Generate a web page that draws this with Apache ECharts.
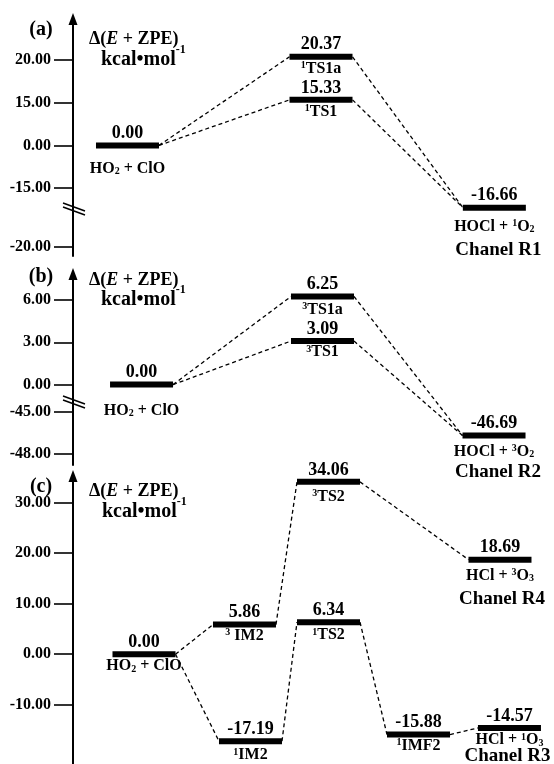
<!DOCTYPE html>
<html><head><meta charset="utf-8">
<script src="https://cdn.jsdelivr.net/npm/echarts@6/dist/echarts.min.js"></script>
<style>html,body{margin:0;padding:0;background:#fff}#c{width:554px;height:764px}</style>
</head><body><div id="c"></div>
<script>
// ================= DATA =================
// Panel (a) – Channel R1
const aTickValues = [20, 15, 0, -15, -20];
const aLevelNames = ['HO_2 + ClO', '^1TS1a', '^1TS1', 'HOCl + ^1O_2'];
const aLevelEnergies = [0.00, 20.37, 15.33, -16.66];
const aChannelNames = ['', '', '', 'Chanel R1'];
const aLinks = [[0, 1], [0, 2], [1, 3], [2, 3]];

// Panel (b) – Channel R2
const bTickValues = [6, 3, 0, -45, -48];
const bLevelNames = ['HO_2 + ClO', '^3TS1a', '^3TS1', 'HOCl + ^3O_2'];
const bLevelEnergies = [0.00, 6.25, 3.09, -46.69];
const bChannelNames = ['', '', '', 'Chanel R2'];
const bLinks = [[0, 1], [0, 2], [1, 3], [2, 3]];

// Panel (c) – Channels R3 / R4
const cTickValues = [30, 20, 10, 0, -10];
const cLevelNames = ['HO_2 + ClO', '^3 IM2', '^1IM2', '^3TS2', '^1TS2', '^1IMF2', 'HCl + ^3O_3', 'HCl + ^1O_3'];
const cLevelEnergies = [0.00, 5.86, -17.19, 34.06, 6.34, -15.88, 18.69, -14.57];
const cChannelNames = ['', '', '', '', '', '', 'Chanel R4', 'Chanel R3'];
const cLinks = [[0, 1], [0, 2], [1, 3], [2, 4], [3, 6], [4, 5], [5, 7]];

// ================= LAYOUT / STYLE =================
const FONT = '"Liberation Serif", "Times New Roman", serif';
const HALF = 0.655;  // half bar width in reaction-coordinate units
const PANELS = [
  { tag: '(a)', ticks: aTickValues, names: aLevelNames, energies: aLevelEnergies, channels: aChannelNames, links: aLinks,
    L: { top: 19, height: 237, yMin: -0.211, yMax: 5.34, breakSeg: 0, breakSpan: 1.38, breakMark: 0.89,
         x: [1.133, 5.156, 5.156, 8.76], nameGap: [23, 12, 12, 19], chanGap: [0, 0, 0, 42], chanDx: [0, 0, 0, 4],
         tagPos: [41, 30], t1: [89, 39.5], t2: [101, 59.5] } },
  { tag: '(b)', ticks: bTickValues, names: bLevelNames, energies: bLevelEnergies, channels: bChannelNames, links: bLinks,
    L: { top: 274, height: 191, yMin: -0.26, yMax: 4.255, breakSeg: 1, breakSpan: 0.64, breakMark: 1.23,
         x: [1.425, 5.187, 5.187, 8.753], nameGap: [26, 13, 11, 16], chanGap: [0, 0, 0, 37], chanDx: [0, 0, 0, 4],
         tagPos: [41, 276.5], t1: [89, 280], t2: [101, 299.5] } },
  { tag: '(c)', ticks: cTickValues, names: cLevelNames, energies: cLevelEnergies, channels: cChannelNames, links: cLinks,
    L: { top: 476, height: 288, yMin: -1.17, yMax: 4.522, breakSeg: -1, breakSpan: 1, breakMark: null,
         x: [1.476, 3.565, 3.69, 5.312, 5.312, 7.183, 8.877, 9.074], nameGap: [12, 11, 14, 15, 13, 11, 16, 12],
         chanGap: [0, 0, 0, 0, 0, 0, 39, 28], chanDx: [0, 0, 0, 0, 0, 0, 2, -2],
         tagPos: [41, 486.5], t1: [89, 491.5], t2: [102, 511.5] } }
];

// ================= SCALE (piecewise axis through tick list) =================
function makeScale(ticks, breakSeg, breakSpan) {
  const asc = ticks.slice().sort((p, q) => p - q);
  const pos = [0];
  for (let i = 1; i < asc.length; i++) pos.push(pos[i - 1] + (i - 1 === breakSeg ? breakSpan : 1));
  return { asc, pos };
}
function toDisplay(s, v) {
  const n = s.asc.length;
  let i = 0;
  if (v <= s.asc[0]) i = 0;
  else if (v >= s.asc[n - 1]) i = n - 2;
  else { while (v > s.asc[i + 1]) i++; }
  const t = (v - s.asc[i]) / (s.asc[i + 1] - s.asc[i]);
  return s.pos[i] + t * (s.pos[i + 1] - s.pos[i]);
}

function richify(str, base) {
  let out = '', buf = '';
  for (let k = 0; k < str.length; k++) {
    const ch = str[k];
    if ((ch === '^' || ch === '_') && k + 1 < str.length) {
      if (buf) { out += '{' + base + '|' + buf + '}'; buf = ''; }
      out += '{' + (ch === '^' ? 'sup' : 'sub') + '|' + str[k + 1] + '}';
      k++;
    } else buf += ch;
  }
  if (buf) out += '{' + base + '|' + buf + '}';
  return out;
}
const tok = (size, extra) => Object.assign({ fontSize: size, fontWeight: 'bold', fontFamily: FONT, fill: '#000' }, extra || {});
const NAME_RICH = {
  n: tok(16, { lineHeight: 16 }),
  sup: tok(10, { lineHeight: 10, verticalAlign: 'top' }),
  sub: tok(10, { lineHeight: 10, verticalAlign: 'bottom' })
};

const grids = [], xAxes = [], yAxes = [], series = [], graphics = [];

PANELS.forEach((P, gi) => {
  const L = P.L;
  const sc = makeScale(P.ticks, L.breakSeg, L.breakSpan);
  const disp = P.energies.map(e => toDisplay(sc, e));
  const tickPos = sc.pos.slice();
  const labelFor = v => {
    for (let i = 0; i < sc.pos.length; i++) if (Math.abs(sc.pos[i] - v) < 1e-6) return sc.asc[i].toFixed(2);
    return '';
  };

  grids.push({ left: 73, right: 0, top: L.top, height: L.height, containLabel: false });
  xAxes.push({ gridIndex: gi, type: 'value', min: 0, max: 10, show: false });
  yAxes.push({
    gridIndex: gi, type: 'value', min: L.yMin, max: L.yMax, position: 'left',
    axisLine: { show: true, onZero: false, symbol: ['none', 'triangle'], symbolSize: [9, 12],
                lineStyle: { color: '#000', width: 2 } },
    axisTick: { show: true, inside: false, length: 19, customValues: tickPos, lineStyle: { color: '#000', width: 1.6 } },
    axisLabel: { show: true, margin: 22, customValues: tickPos, formatter: labelFor,
                 color: '#000', fontFamily: FONT, fontWeight: 'bold', fontSize: 16 },
    splitLine: { show: false }
  });

  // dashed connectors
  series.push({
    type: 'custom', coordinateSystem: 'cartesian2d', xAxisIndex: gi, yAxisIndex: gi, clip: false, silent: true,
    data: P.links.map(([f, t]) => [L.x[f] + HALF, disp[f], L.x[t] - HALF, disp[t]]),
    renderItem(params, api) {
      const a = api.coord([api.value(0), api.value(1)]);
      const b = api.coord([api.value(2), api.value(3)]);
      return { type: 'line', shape: { x1: a[0], y1: a[1], x2: b[0], y2: b[1] },
               style: { stroke: '#000', lineWidth: 1.3, lineDash: [4, 3], fill: null } };
    }
  });

  // energy levels + labels
  series.push({
    type: 'custom', coordinateSystem: 'cartesian2d', xAxisIndex: gi, yAxisIndex: gi, clip: false, silent: true,
    data: P.energies.map((e, i) => [L.x[i], disp[i], i]),
    renderItem(params, api) {
      const i = api.value(2);
      const pL = api.coord([api.value(0) - HALF, api.value(1)]);
      const pR = api.coord([api.value(0) + HALF, api.value(1)]);
      const cx = (pL[0] + pR[0]) / 2, cy = pL[1];
      const children = [
        { type: 'rect', shape: { x: pL[0], y: cy - 3, width: pR[0] - pL[0], height: 6 }, style: { fill: '#000' } },
        { type: 'text', style: { text: P.energies[i].toFixed(2), x: cx, y: cy - 12, align: 'center', verticalAlign: 'middle',
                                 fontSize: 18, fontWeight: 'bold', fontFamily: FONT, fill: '#000' } },
        { type: 'text', style: { text: richify(P.names[i], 'n'), rich: NAME_RICH, x: cx, y: cy + L.nameGap[i],
                                 align: 'center', verticalAlign: 'middle', fontSize: 16, fontWeight: 'bold', fontFamily: FONT, fill: '#000' } }
      ];
      if (P.channels[i]) {
        children.push({ type: 'text', style: { text: P.channels[i], x: cx + L.chanDx[i], y: cy + L.chanGap[i], align: 'center', verticalAlign: 'middle',
                                               fontSize: 19, fontWeight: 'bold', fontFamily: FONT, fill: '#000' } });
      }
      return { type: 'group', children };
    }
  });

  // axis break marks
  if (L.breakMark !== null) {
    series.push({
      type: 'custom', coordinateSystem: 'cartesian2d', xAxisIndex: gi, yAxisIndex: gi, clip: false, silent: true,
      data: [[0, L.breakMark]],
      renderItem(params, api) {
        const p = api.coord([api.value(0), api.value(1)]);
        const st = { stroke: '#000', lineWidth: 1.6 };
        return { type: 'group', children: [
          { type: 'line', shape: { x1: p[0] - 10, y1: p[1] - 6, x2: p[0] + 12, y2: p[1] + 2 }, style: st },
          { type: 'line', shape: { x1: p[0] - 10, y1: p[1] - 2, x2: p[0] + 12, y2: p[1] + 6 }, style: st }
        ] };
      }
    });
  }

  // panel tag and axis title
  graphics.push({ type: 'text', x: L.tagPos[0], y: L.tagPos[1],
    style: { text: P.tag, align: 'center', verticalAlign: 'middle', fontSize: 20, fontWeight: 'bold', fontFamily: FONT, fill: '#000' } });
  graphics.push({ type: 'text', x: L.t1[0], y: L.t1[1],
    style: { text: '{n|Δ(}{i|E}{n| + ZPE)}', align: 'left', verticalAlign: 'middle',
             rich: { n: tok(18, { lineHeight: 20 }), i: tok(18, { lineHeight: 20, fontStyle: 'italic' }) } } });
  graphics.push({ type: 'text', x: L.t2[0], y: L.t2[1],
    style: { text: '{n|kcal•mol}{s|-1}', align: 'left', verticalAlign: 'middle',
             rich: { n: tok(20, { lineHeight: 32 }), s: tok(12, { lineHeight: 12, verticalAlign: 'top' }) } } });
});

const chart = echarts.init(document.getElementById('c'), null, { renderer: 'canvas' });
chart.setOption({
  animation: false,
  backgroundColor: '#fff',
  grid: grids, xAxis: xAxes, yAxis: yAxes, series: series,
  graphic: { elements: graphics }
});
</script>
</body></html>
